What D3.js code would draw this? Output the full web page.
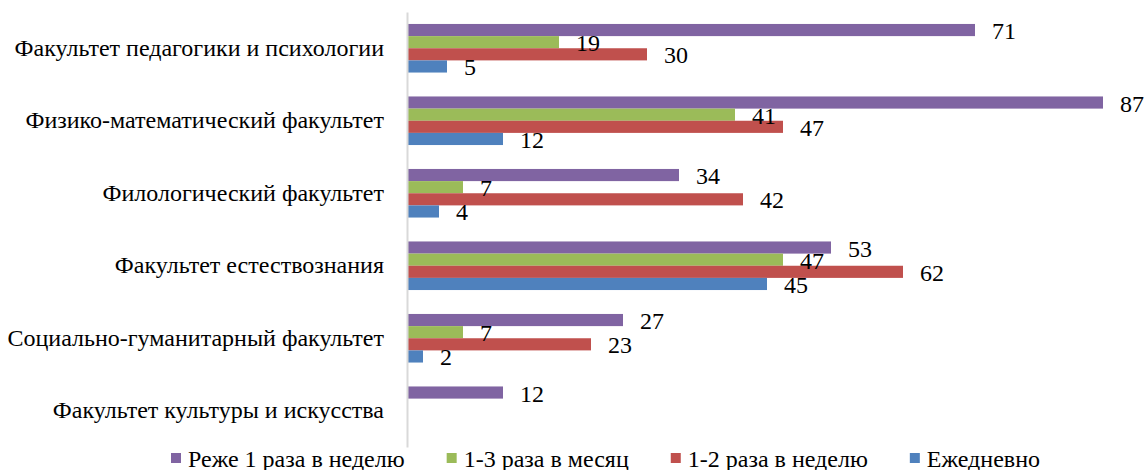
<!DOCTYPE html>
<html>
<head>
<meta charset="utf-8">
<script src="https://cdn.jsdelivr.net/npm/d3@7"></script>
<style>
  body { margin: 0; background: #fff; }
  svg text { font-family: "Liberation Serif", "Times New Roman", serif; fill: #000; }
</style>
</head>
<body>
<svg id="chart" width="1145" height="470"></svg>
<script>
var faculties = ["Факультет педагогики и психологии",
		 "Физико-математический факультет",
		 "Филологический факультет",
		 "Факультет естествознания",
		 "Социально-гуманитарный факультет",
		 "Факультет культуры и искусства"];

var series_names = ["Реже 1 раза в неделю", "1-3 раза в месяц", "1-2 раза в неделю", "Ежедневно"];
var series_colors = ["#8064A2", "#9BBB59", "#C0504D", "#4F81BD"];

// values per faculty, in the order of series_names
var rarely   = [71, 87, 34, 53, 27, 12];
var monthly  = [19, 41, 7, 47, 7, null];
var weekly   = [30, 47, 42, 62, 23, null];
var daily    = [5, 12, 4, 45, 2, null];

var series_values = [rarely, monthly, weekly, daily];

var font = '"Liberation Serif", "Times New Roman", serif';
var font_size = '24px';
var svg = d3.select('#chart');

var x = d3.scaleLinear()
    .domain([0, 90])
    .range([407, 1127]);

var y = d3.scaleBand()
    .domain(faculties)
    .range([12, 447])
    .paddingInner(0.33)
    .paddingOuter(0.165);

var y_inner = d3.scaleBand()
    .domain(d3.range(series_names.length))
    .range([0, y.bandwidth()]);

// flatten into one record per bar
var bars = [];
faculties.forEach(function(f, i) {
    series_values.forEach(function(vals, s) {
	if (vals[i] != null) {
	    bars.push({faculty: f, series: s, value: vals[i]});
	}
    });
});

svg.selectAll('rect.bar')
    .data(bars)
    .enter().append('rect')
    .attr('class', 'bar')
    .attr('x', x(0))
    .attr('y', function(d) { return y(d.faculty) + y_inner(d.series); })
    .attr('width', function(d) { return x(d.value) - x(0); })
    .attr('height', y_inner.bandwidth())
    .style('fill', function(d) { return series_colors[d.series]; });

svg.selectAll('text.value')
    .data(bars)
    .enter().append('text')
    .attr('class', 'value')
    .attr('x', function(d) { return x(d.value) + 17; })
    .attr('y', function(d) { return y(d.faculty) + y_inner(d.series) + y_inner.bandwidth() / 2 + 1; })
    .attr('dominant-baseline', 'central')
    .style('font-family', font)
    .style('font-size', font_size)
    .text(function(d) { return d.value; });

// category axis
var axis = svg.append('g')
    .attr('transform', 'translate(' + x(0) + ',0)')
    .call(d3.axisLeft(y).tickSize(0).tickPadding(23))
    .attr('font-family', font)
    .attr('font-size', 24);

axis.select('.domain')
    .style('stroke', '#D9D9D9')
    .style('stroke-width', '2px');

axis.selectAll('text')
    .style('fill', '#000');

// legend
var legend = svg.append('g').attr('class', 'legend');
var lx = 171;
series_names.forEach(function(name, s) {
    legend.append('rect')
	.attr('x', lx)
	.attr('y', 453)
	.attr('width', 10)
	.attr('height', 10)
	.style('fill', series_colors[s]);
    var t = legend.append('text')
	.attr('x', lx + 17)
	.attr('y', 459)
	.attr('dominant-baseline', 'central')
	.style('font-family', font)
	.style('font-size', font_size)
	.text(name);
    lx += 17 + t.node().getComputedTextLength() + 42;
});
</script>
</body>
</html>
